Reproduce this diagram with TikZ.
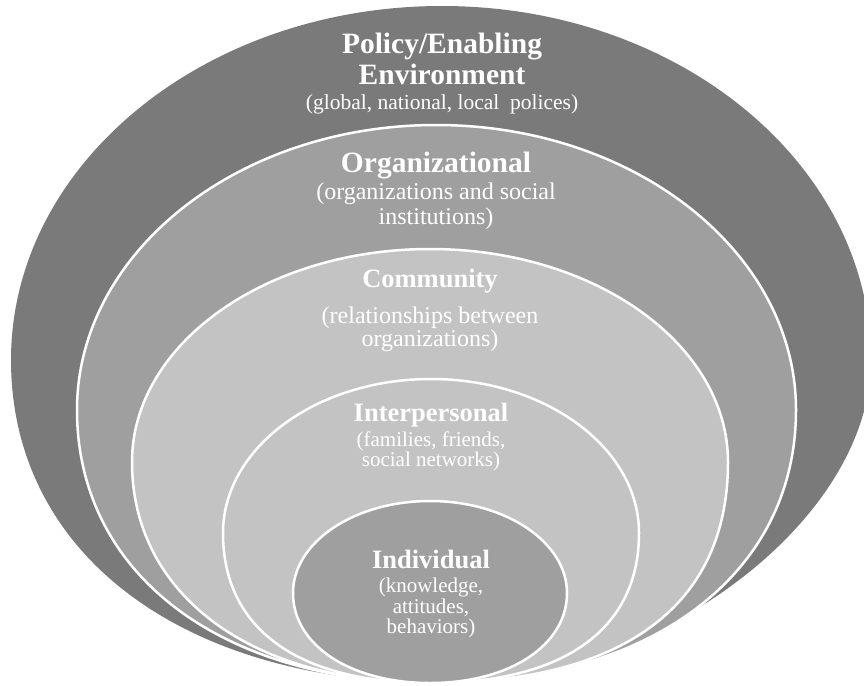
\documentclass[tikz,border=0pt]{standalone}
\usepackage{fontspec}
\setmainfont{Liberation Serif}
\definecolor{darkring}{HTML}{7A7A7A}
\definecolor{midring}{HTML}{9F9F9F}
\definecolor{lightring}{HTML}{C3C3C3}
\tikzset{
  ring/.style={draw=white, line width=2.5pt},
  ttl/.style={anchor=base, text=white, inner sep=0pt, font=\bfseries\fontsize{#1}{#1}\selectfont},
  body/.style={anchor=base, text=white, inner sep=0pt, font=\fontsize{#1}{#1}\selectfont}
}
\begin{document}
\begin{tikzpicture}[x=1pt,y=-1pt]
\useasboundingbox (0,0) rectangle (864,685);
% outer
\fill[darkring] (11,360) .. controls (11,164.5) and (204,6) .. (442,6)
  .. controls (679,6) and (871,164.5) .. (871,360)
  .. controls (871,521.5) and (655.5,683) .. (440,683)
  .. controls (182.6,683) and (11,553.8) .. cycle;
% organizational
\filldraw[ring, fill=midring] (77,410) .. controls (77,252.6) and (237.7,125) .. (436,125)
  .. controls (634.8,125) and (796,252.6) .. (796,410)
  .. controls (796,573.8) and (652,683) .. (436,683)
  .. controls (220.6,683) and (77,573.8) .. cycle;
% community
\filldraw[ring, fill=lightring] (132,462) .. controls (132,344.4) and (265.4,249) .. (430,249)
  .. controls (594.6,249) and (728,344.4) .. (728,462)
  .. controls (728,605.7) and (623.7,683) .. (430,683)
  .. controls (251.2,683) and (132,594.6) .. cycle;
% interpersonal
\filldraw[ring, fill=lightring] (223,533) .. controls (223,448) and (316.1,379) .. (431,379)
  .. controls (545.9,379) and (639,448) .. (639,533)
  .. controls (639,629) and (564.1,683) .. (431,683)
  .. controls (297.9,683) and (223,629) .. cycle;
% individual
\filldraw[ring, fill=midring] (293,593) .. controls (293,542.2) and (354.3,501) .. (430,501)
  .. controls (505.7,501) and (567,542.2) .. (567,593)
  .. controls (567,645.2) and (509.5,683) .. (430,683)
  .. controls (350.5,683) and (293,645.2) .. cycle;
% texts
\node[ttl=29.5] (p1) at (442,54) {Policy/Enabling};
\node[ttl=29.5] (p2) at (442,84) {Environment};
\node[body=21.5] (p3) at (442,109) {(global, national, local\ \ polices)};
\node[ttl=29.5] (o1) at (436,172) {Organizational};
\node[body=24] (o2) at (436,199) {(organizations and social};
\node[body=24] (o3) at (436,224) {institutions)};
\node[ttl=26.5] (c1) at (430,287) {Community};
\node[body=24] (c2) at (430,323) {(relationships between};
\node[body=24] (c3) at (430,346) {organizations)};
\node[ttl=26.5] (i1) at (431,421) {Interpersonal};
\node[body=21] (i2) at (431,446) {(families, friends,};
\node[body=21] (i3) at (431,466) {social networks)};
\node[ttl=26.5] (n1) at (431,568) {Individual};
\node[body=21] (n2) at (431,592) {(knowledge,};
\node[body=21] (n3) at (431,613) {attitudes,};
\node[body=21] (n4) at (431,633) {behaviors)};
\end{tikzpicture}
\end{document}
